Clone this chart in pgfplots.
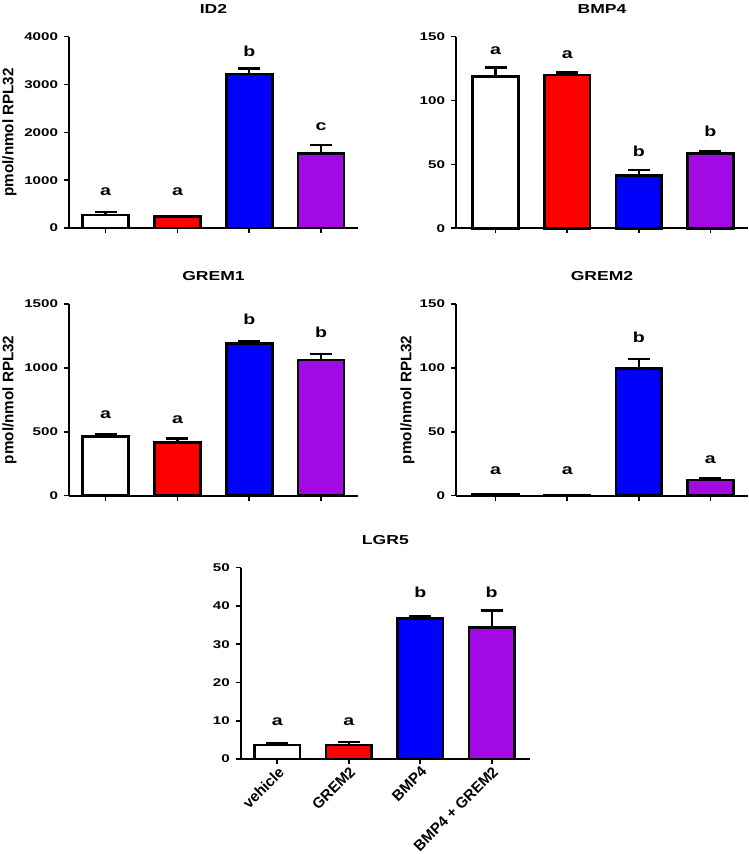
\documentclass[border=0pt]{standalone}
\usepackage{fontspec}
\setmainfont{Liberation Sans}[FakeStretch=1.35]
\newfontfamily\lab{Liberation Sans}
\usepackage{pgfplots}
\pgfplotsset{compat=1.18}
\definecolor{bred}{RGB}{255,0,0}
\definecolor{bblue}{RGB}{0,0,255}
\definecolor{bpurple}{RGB}{163,10,227}
\tikzset{lettr/.style={font=\bfseries\fontsize{14.5}{16}\selectfont}}
\pgfplotsset{
  panel/.style={
    scale only axis,
    anchor=south west,
    axis x line*=bottom, axis y line*=left,
    axis line style={-, line width=1.8pt, black},
    tick style={line width=1.6pt, black},
    tick align=outside,
    major tick length=5pt,
    xtick={0,1,2,3},
    xticklabels={},
    ymin=0,
    clip=false,
    /pgf/number format/assume math mode=true,
    /pgf/number format/1000 sep={},
    yticklabel style={font=\bfseries\fontsize{11.2}{12}\selectfont, xshift=-2.5pt},
    title style={font=\bfseries\fontsize{13}{15}\selectfont, at={(axis description cs:0.5,1)}, anchor=center, yshift=21.5pt},
    every axis y label/.style={rotate=90, anchor=center, font=\lab\bfseries\fontsize{15.2}{17}\selectfont},
  },
  mybar/.style={ybar, bar width=0.64, bar shift=0pt, draw=black, line width=2.6pt, fill=#1,
    error bars/.cd, y dir=plus, y explicit,
    error bar style={line width=2.4pt, black},
    error mark options={rotate=90, line width=2.4pt, black, mark size=11pt}},
}
\begin{document}
\begin{tikzpicture}
\useasboundingbox (0pt,0pt) rectangle (749pt,854pt);
% ID2
\begin{axis}[panel, at={(69pt,626pt)}, width=289pt, height=191.3pt,
  xmin=-0.511, xmax=3.515, ymax=4000, ytick={0,1000,2000,3000,4000},
  title={ID2}, ylabel={pmol/nmol RPL32},
  ylabel style={at={(axis description cs:-0.206,0.5)}}]
\addplot[mybar=white] coordinates {(0,272) +- (0,60)};
\addplot[mybar=bred] coordinates {(1,236) +- (0,10)};
\addplot[mybar=bblue] coordinates {(2,3220) +- (0,115)};
\addplot[mybar=bpurple] coordinates {(3,1562) +- (0,170)};
\node[lettr] at (axis cs:0,753) {a};
\node[lettr] at (axis cs:1,753) {a};
\node[lettr] at (axis cs:2,3701) {b};
\node[lettr] at (axis cs:3,2118) {c};
\end{axis}
% BMP4
\begin{axis}[panel, at={(456pt,625.7pt)}, width=292pt, height=191.6pt,
  xmin=-0.554, xmax=3.525, ymax=150, ytick={0,50,100,150},
  title={BMP4}]
\addplot[mybar=white] coordinates {(0,118.7) +- (0,7.3)};
\addplot[mybar=bred] coordinates {(1,120) +- (0,2)};
\addplot[mybar=bblue] coordinates {(2,41.2) +- (0,4.5)};
\addplot[mybar=bpurple] coordinates {(3,58.7) +- (0,1.3)};
\node[lettr] at (axis cs:0,139) {a};
\node[lettr] at (axis cs:1,136) {a};
\node[lettr] at (axis cs:2,60) {b};
\node[lettr] at (axis cs:3,76) {b};
\end{axis}
% GREM1
\begin{axis}[panel, at={(69pt,358.3pt)}, width=289pt, height=191.7pt,
  xmin=-0.511, xmax=3.515, ymax=1500, ytick={0,500,1000,1500},
  title={GREM1}, ylabel={pmol/nmol RPL32},
  ylabel style={at={(axis description cs:-0.206,0.5)}}]
\addplot[mybar=white] coordinates {(0,462) +- (0,20)};
\addplot[mybar=bred] coordinates {(1,415) +- (0,34)};
\addplot[mybar=bblue] coordinates {(2,1192) +- (0,20)};
\addplot[mybar=bpurple] coordinates {(3,1062) +- (0,47)};
\node[lettr] at (axis cs:0,635) {a};
\node[lettr] at (axis cs:1,592) {a};
\node[lettr] at (axis cs:2,1384) {b};
\node[lettr] at (axis cs:3,1276) {b};
\end{axis}
% GREM2
\begin{axis}[panel, at={(456pt,358.3pt)}, width=292pt, height=191.7pt,
  xmin=-0.554, xmax=3.525, ymax=150, ytick={0,50,100,150},
  title={GREM2}, ylabel={pmol/nmol RPL32},
  ylabel style={at={(axis description cs:-0.166,0.5)}}]
\addplot[mybar=white] coordinates {(0,0.8) +- (0,0.3)};
\addplot[mybar=bred] coordinates {(1,0.5) +- (0,0.2)};
\addplot[mybar=bblue] coordinates {(2,99.4) +- (0,7.5)};
\addplot[mybar=bpurple] coordinates {(3,12.3) +- (0,1.6)};
\node[lettr] at (axis cs:0,19.3) {a};
\node[lettr] at (axis cs:1,19.3) {a};
\node[lettr] at (axis cs:2,123.6) {b};
\node[lettr] at (axis cs:3,27.9) {a};
\end{axis}
% LGR5
\begin{axis}[panel, at={(240.7pt,95pt)}, width=289.3pt, height=191.3pt,
  xmin=-0.512, xmax=3.536, ymax=50, ytick={0,10,20,30,40,50},
  title={LGR5},
  xticklabels={vehicle, GREM2, BMP4, BMP4 + GREM2},
  xticklabel style={rotate=45, anchor=north east, font=\lab\bfseries\fontsize{15}{16}\selectfont, inner sep=1pt}]
\addplot[mybar=white] coordinates {(0,3.66) +- (0,0.6)};
\addplot[mybar=bred] coordinates {(1,3.66) +- (0,0.8)};
\addplot[mybar=bblue] coordinates {(2,36.8) +- (0,0.5)};
\addplot[mybar=bpurple] coordinates {(3,34.3) +- (0,4.5)};
\node[lettr] at (axis cs:0,9.75) {a};
\node[lettr] at (axis cs:1,9.75) {a};
\node[lettr] at (axis cs:2,43.5) {b};
\node[lettr] at (axis cs:3,43.5) {b};
\end{axis}
\end{tikzpicture}
\end{document}
